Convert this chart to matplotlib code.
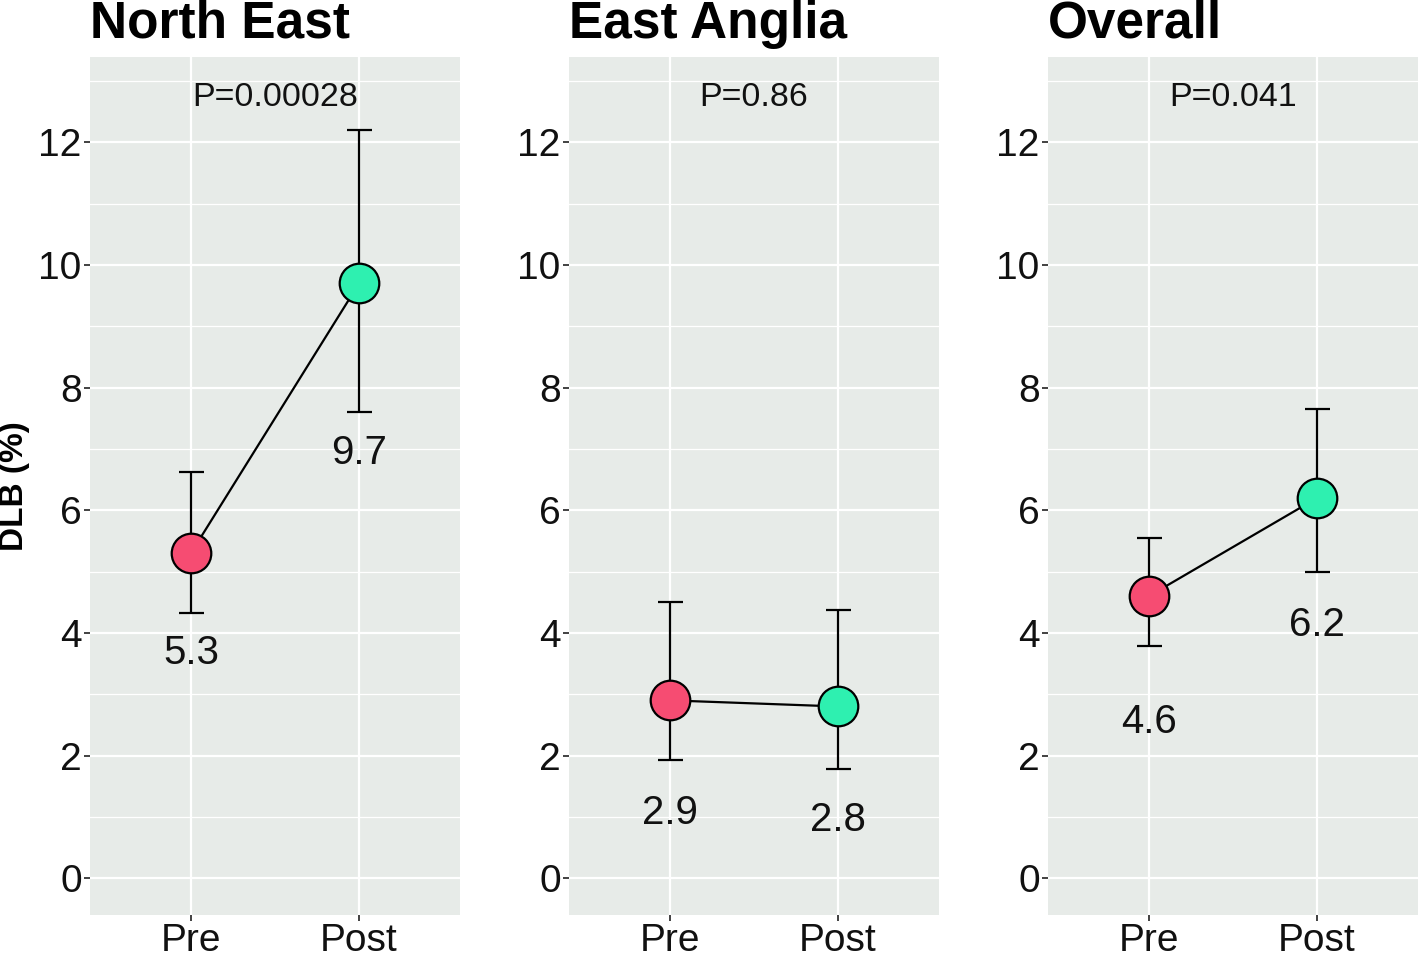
import matplotlib
matplotlib.use("Agg")
import matplotlib.pyplot as plt
import numpy as np

plt.rcParams['font.family'] = ['Liberation Sans', 'DejaVu Sans']

# data
regions = ["North East", "East Anglia", "Overall"]
phases = ["Pre", "Post"]
p_labels = ["P=0.00028", "P=0.86", "P=0.041"]
pre_mean = [5.3, 2.9, 4.6]
post_mean = [9.7, 2.8, 6.2]
pre_low = [4.32, 1.92, 3.78]
pre_high = [6.62, 4.50, 5.54]
post_low = [7.60, 1.78, 4.99]
post_high = [12.20, 4.37, 7.65]
# where the value labels sit (data units)
pre_label_y = [3.67, 1.06, 2.54]
post_label_y = [6.93, 0.95, 4.13]

colors = ["#F64C72", "#2EF0B0"]
bg = "#E7EBE8"

W, H = 1418, 955
fig = plt.figure(figsize=(W / 100, H / 100), dpi=100)

panel_left = [90, 569, 1048]
panel_w = 370
top_px, bot_px = 57, 915

for i, name in enumerate(regions):
    ax = fig.add_axes([panel_left[i] / W, (H - bot_px) / H, panel_w / W, (bot_px - top_px) / H])
    ax.set_facecolor(bg)
    for s in ax.spines.values():
        s.set_visible(False)

    ax.set_xlim(-0.6, 1.6)
    ax.set_ylim(-0.6, 13.39)
    ax.set_xticks([0, 1])
    ax.set_xticklabels(phases)
    ax.set_yticks(np.arange(0, 13, 2))
    ax.set_yticks(np.arange(1, 14, 2), minor=True)
    ax.tick_params(axis='both', which='major', labelsize=28, length=4, width=1.3,
                   color='#333333', labelcolor='#111111', pad=2)
    ax.tick_params(axis='y', which='minor', length=0)
    ax.grid(which='major', color='white', linewidth=1.6)
    ax.grid(which='minor', axis='y', color='white', linewidth=0.9)
    ax.set_axisbelow(True)

    means = [pre_mean[i], post_mean[i]]
    lows = [pre_low[i], post_low[i]]
    highs = [pre_high[i], post_high[i]]
    xs = [0, 1]

    ax.plot(xs, means, color='black', linewidth=1.6, zorder=2)
    for j in range(2):
        ax.errorbar(xs[j], means[j],
                    yerr=[[means[j] - lows[j]], [highs[j] - means[j]]],
                    fmt='none', ecolor='black', elinewidth=1.6, capsize=9,
                    capthick=1.6, zorder=2)
        ax.plot(xs[j], means[j], 'o', markersize=28.5, markerfacecolor=colors[j],
                markeredgecolor='black', markeredgewidth=1.6, zorder=3)

    ax.text(0, pre_label_y[i], f"{pre_mean[i]:.1f}", ha='center', va='center', fontsize=29, color='#111111')
    ax.text(1, post_label_y[i], f"{post_mean[i]:.1f}", ha='center', va='center', fontsize=29, color='#111111')
    ax.text(0.5, 12.73, p_labels[i], ha='center', va='center', fontsize=24.5, color='#111111')

    fig.text(panel_left[i] / W, (H - 38) / H, name, ha='left', va='baseline',
             fontsize=37, fontweight='bold')

fig.text(15 / W, (H - 486) / H, "DLB (%)", rotation=90, ha='center', va='center',
         fontsize=24, fontweight='bold')

fig.savefig("out.png", dpi=100)
